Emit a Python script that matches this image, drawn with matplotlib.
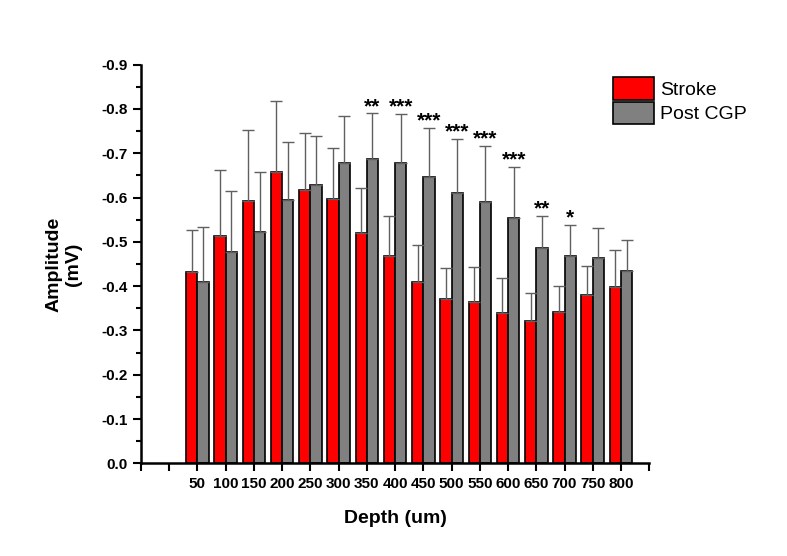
import matplotlib.pyplot as plt
import numpy as np

plt.rcParams['font.family'] = ['Liberation Sans', 'DejaVu Sans']

# datos
depth = [50, 100, 150, 200, 250, 300, 350, 400, 450, 500, 550, 600, 650, 700, 750, 800]
stroke = [-0.433, -0.514, -0.593, -0.657, -0.617, -0.596, -0.519, -0.467,
          -0.410, -0.372, -0.364, -0.340, -0.322, -0.342, -0.380, -0.398]
stroke_cap = [-0.526, -0.663, -0.752, -0.818, -0.746, -0.712, -0.622, -0.559,
              -0.492, -0.442, -0.443, -0.419, -0.384, -0.401, -0.445, -0.481]
post = [-0.410, -0.477, -0.522, -0.595, -0.629, -0.678, -0.688, -0.679,
        -0.646, -0.611, -0.590, -0.553, -0.486, -0.468, -0.464, -0.434]
post_cap = [-0.533, -0.615, -0.657, -0.725, -0.739, -0.784, -0.790, -0.789,
            -0.758, -0.732, -0.716, -0.669, -0.559, -0.538, -0.532, -0.505]
stars = ['', '', '', '', '', '', '**', '***', '***', '***', '***', '***', '**', '*', '', '']

x = np.array(depth)
s_err = np.abs(np.array(stroke_cap) - np.array(stroke))
p_err = np.abs(np.array(post_cap) - np.array(post))

fig = plt.figure(figsize=(7.87, 5.56), dpi=100)
ax = fig.add_axes([0.179, 0.1667, 0.646, 0.717])

w = 20
# barras con error solo hacia arriba (valores negativos)
ax.bar(x - w/2, stroke, w, color='#ff0000', edgecolor='black', linewidth=1.2, label='Stroke')
ax.bar(x + w/2, post, w, color='#808080', edgecolor='black', linewidth=1.2, label='Post CGP')
ax.errorbar(x - w/2, stroke, yerr=[s_err, np.zeros_like(s_err)], fmt='none',
            ecolor='#606060', elinewidth=1, capsize=4, capthick=1)
ax.errorbar(x + w/2, post, yerr=[p_err, np.zeros_like(p_err)], fmt='none',
            ecolor='#606060', elinewidth=1, capsize=4, capthick=1)

for xi, c, st in zip(x, post_cap, stars):
    if st:
        ax.text(xi + w/2, c + 0.006, st, ha='center', va='bottom', fontsize=15, fontweight='bold')

ax.set_xlim(-50, 850)
ax.set_ylim(0, -0.9)
xt = np.arange(-50, 851, 50)
ax.set_xticks(xt)
ax.set_xticklabels([str(v) if 50 <= v <= 800 else '' for v in xt], fontweight='bold', fontsize=11)
ax.set_yticks(np.arange(0, -0.91, -0.1))
ax.set_yticklabels(['%.1f' % v if abs(v) > 1e-9 else '0.0' for v in np.arange(0, -0.91, -0.1)],
                   fontweight='bold', fontsize=11)
ax.set_yticks(np.arange(-0.05, -0.9, -0.1), minor=True)
ax.tick_params(axis='both', which='major', direction='out', length=6, width=1.5)
ax.tick_params(axis='y', which='minor', direction='out', length=3.5, width=1.5)

for sp in ['top', 'right']:
    ax.spines[sp].set_visible(False)
for sp in ['left', 'bottom']:
    ax.spines[sp].set_linewidth(1.8)

ax.set_xlabel('Depth (um)', fontsize=14, fontweight='bold', labelpad=14)
ax.set_ylabel('Amplitude\n(mV)', fontsize=14, fontweight='bold', labelpad=14)

fig.legend(loc='upper left', bbox_to_anchor=(0.769, 0.875), frameon=False, fontsize=14,
           handlelength=2.1, handleheight=1.4, handletextpad=0.3, labelspacing=0.1,
           borderaxespad=0)

fig.savefig('out.png', dpi=100)
